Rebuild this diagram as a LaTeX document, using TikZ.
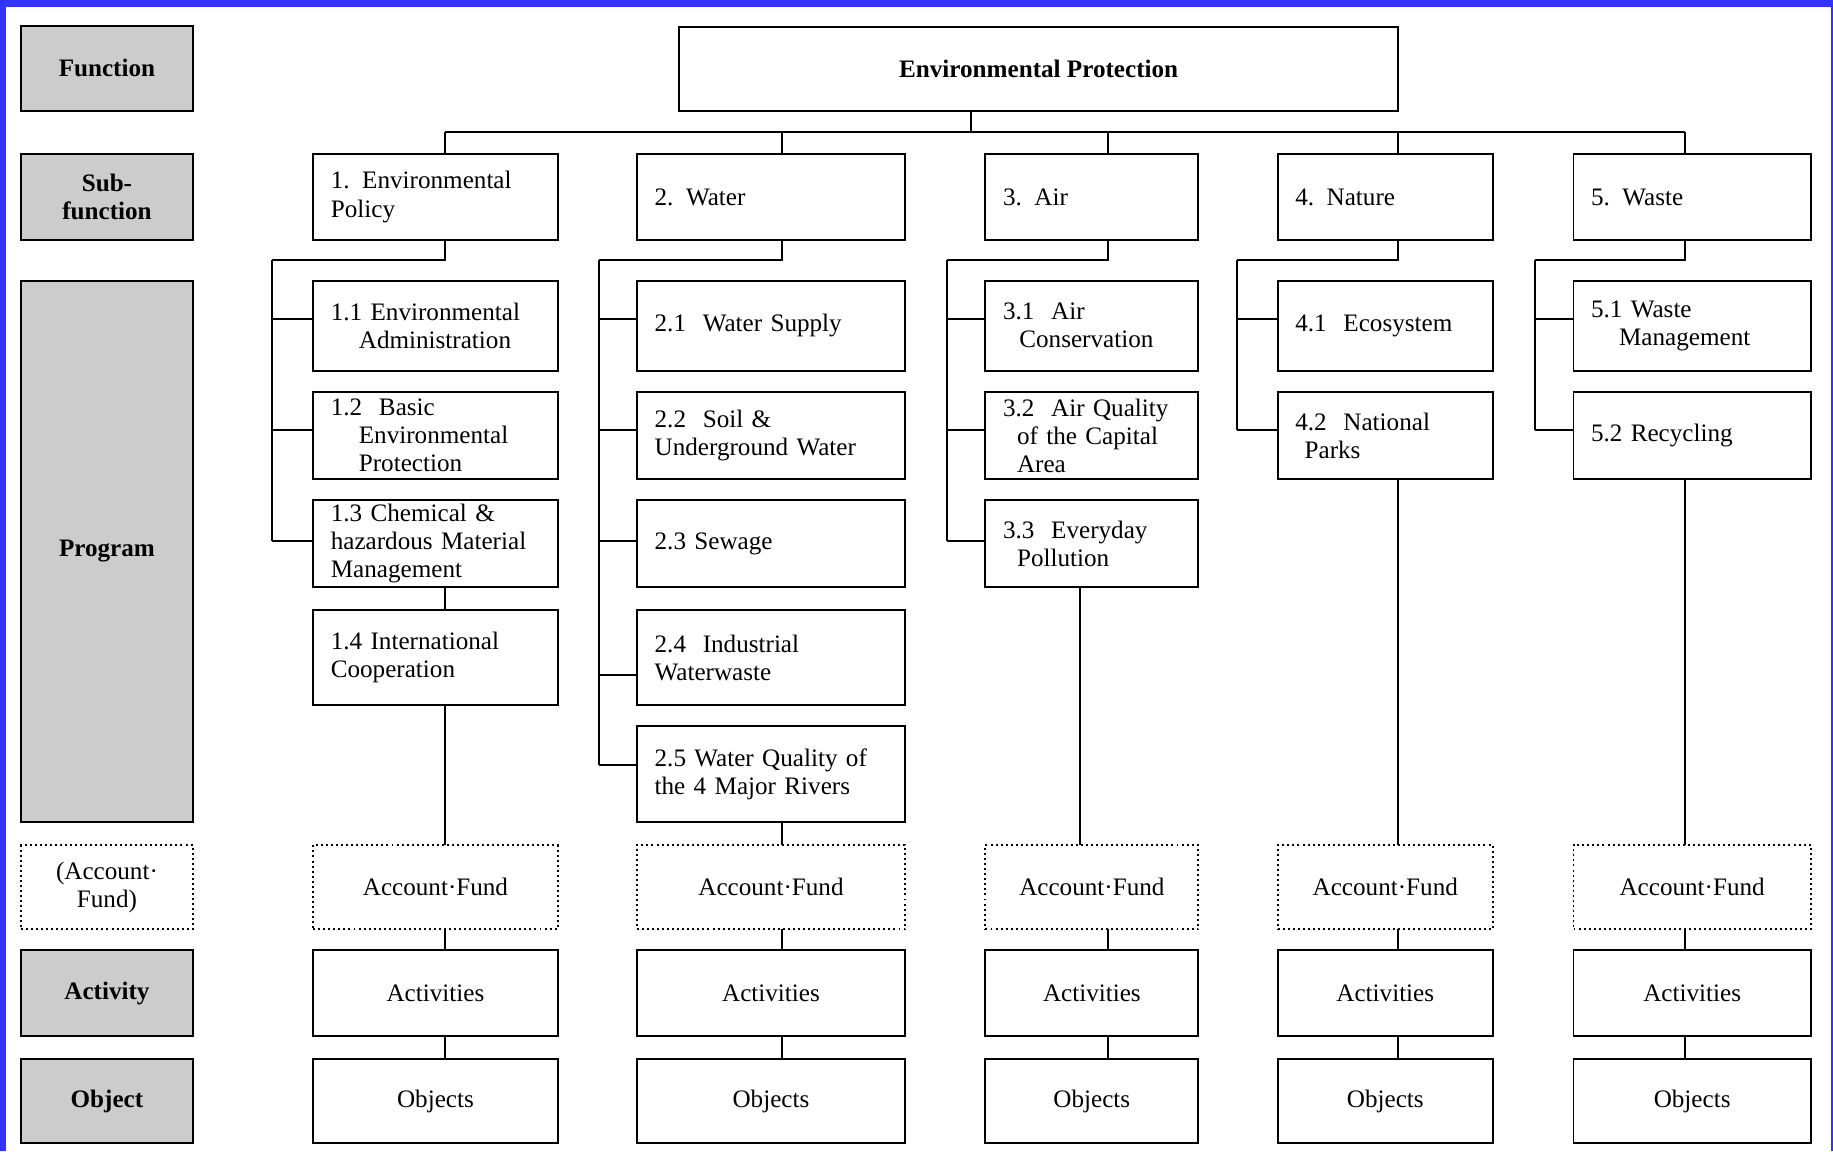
\documentclass[tikz,border=0pt]{standalone}
\usepackage{fontspec}
\setmainfont{Liberation Serif}
\definecolor{frameblue}{HTML}{3333FF}
\definecolor{labgray}{HTML}{CCCCCC}
\newcommand\placebox[7]{%
  \pgfmathsetmacro\bxw{#5-#3}\pgfmathsetmacro\bxh{#6-#4}%
  \pgfmathsetmacro\bxtw{#5-#3-30}%
  \pgfmathsetmacro\bxcx{(#3+#5)/2}\pgfmathsetmacro\bxcy{(#4+#6)/2}%
  \node[#1, minimum width=\bxw pt, minimum height=\bxh pt] (#2) at (\bxcx,\bxcy) {#7};}
\begin{document}
\begin{tikzpicture}[x=1pt,y=-1pt,
  base/.style={draw=black, line width=1.7pt, inner ysep=0pt, outer sep=0pt,
    font=\fontsize{21.5}{24}\selectfont},
  lab/.style={base, fill=labgray, align=center, inner xsep=4pt, font=\fontsize{21.5}{24}\selectfont\bfseries},
  labd/.style={base, fill=white, align=center, inner xsep=4pt, dash pattern=on 1.7pt off 2.6pt},
  lbox/.style={base, fill=white, align=left, inner xsep=15pt, text width=\bxtw pt},
  cbox/.style={base, fill=white, align=center, inner xsep=4pt},
  afbox/.style={cbox, dash pattern=on 1.7pt off 2.6pt},
  conn/.style={line width=1.7pt, draw=black}]
\useasboundingbox (0,0) rectangle (1568,985);
\fill[frameblue] (0,0) rectangle (1568,985);
\fill[white] (5.5,6) rectangle (1566,985);

% left labels
\placebox{lab}{lFun}{18}{22}{165}{95}{Function}
\placebox{lab}{lSub}{18}{132}{165}{205}{Sub-\\function}
\placebox{lab}{lProg}{18}{240}{165}{703}{Program}
\placebox{labd}{lAcc}{18}{723}{165}{795}{(Account·\\Fund)}
\placebox{lab}{lAct}{18}{813}{165}{886}{Activity}
\placebox{lab}{lObj}{18}{906}{165}{978}{Object}

% function
\placebox{cbox}{ep}{581}{23}{1196}{95}{\bfseries Environmental Protection}

% sub-functions
\placebox{lbox}{s1}{268}{132}{477}{205}{1. Environmental\\Policy}
\placebox{lbox}{s2}{545}{132}{774}{205}{2. Water}
\placebox{lbox}{s3}{843}{132}{1025}{205}{3. Air}
\placebox{lbox}{s4}{1093}{132}{1277}{205}{4. Nature}
\placebox{lbox}{s5}{1346}{132}{1549}{205}{5. Waste}

% programs column 1
\placebox{lbox}{p11}{268}{240}{477}{317}{1.1 Environmental\\\hspace*{24pt}Administration}
\placebox{lbox}{p12}{268}{335}{477}{410}{1.2 \ Basic\\\hspace*{24pt}Environmental\\\hspace*{24pt}Protection}
\placebox{lbox}{p13}{268}{428}{477}{502}{1.3 Chemical \&\\hazardous Material\\Management}
\placebox{lbox}{p14}{268}{522}{477}{603}{1.4 International\\Cooperation}
% column 2
\placebox{lbox}{p21}{545}{240}{774}{317}{2.1 \ Water Supply}
\placebox{lbox}{p22}{545}{335}{774}{410}{2.2 \ Soil \&\\Underground Water}
\placebox{lbox}{p23}{545}{428}{774}{502}{2.3 Sewage}
\placebox{lbox}{p24}{545}{522}{774}{603}{2.4 \ Industrial\\Waterwaste}
\placebox{lbox}{p25}{545}{621}{774}{703}{2.5 Water Quality of\\the 4 Major Rivers}
% column 3
\placebox{lbox}{p31}{843}{240}{1025}{317}{3.1 \ Air\\\hspace*{14pt}Conservation}
\placebox{lbox}{p32}{843}{335}{1025}{410}{3.2 \ Air Quality\\\hspace*{12pt}of the Capital\\\hspace*{12pt}Area}
\placebox{lbox}{p33}{843}{428}{1025}{502}{3.3 \ Everyday\\\hspace*{12pt}Pollution}
% column 4
\placebox{lbox}{p41}{1093}{240}{1277}{317}{4.1 \ Ecosystem}
\placebox{lbox}{p42}{1093}{335}{1277}{410}{4.2 \ National\\\hspace*{8pt}Parks}
% column 5
\placebox{lbox}{p51}{1346}{240}{1549}{317}{5.1 Waste\\\hspace*{24pt}Management}
\placebox{lbox}{p52}{1346}{335}{1549}{410}{5.2 Recycling}

% account funds, activities, objects
\placebox{afbox}{af1}{268}{723}{477}{795}{Account·Fund}
\placebox{afbox}{af2}{545}{723}{774}{795}{Account·Fund}
\placebox{afbox}{af3}{843}{723}{1025}{795}{Account·Fund}
\placebox{afbox}{af4}{1093}{723}{1277}{795}{Account·Fund}
\placebox{afbox}{af5}{1346}{723}{1549}{795}{Account·Fund}
\placebox{cbox}{ac1}{268}{813}{477}{886}{Activities}
\placebox{cbox}{ac2}{545}{813}{774}{886}{Activities}
\placebox{cbox}{ac3}{843}{813}{1025}{886}{Activities}
\placebox{cbox}{ac4}{1093}{813}{1277}{886}{Activities}
\placebox{cbox}{ac5}{1346}{813}{1549}{886}{Activities}
\placebox{cbox}{ob1}{268}{906}{477}{978}{Objects}
\placebox{cbox}{ob2}{545}{906}{774}{978}{Objects}
\placebox{cbox}{ob3}{843}{906}{1025}{978}{Objects}
\placebox{cbox}{ob4}{1093}{906}{1277}{978}{Objects}
\placebox{cbox}{ob5}{1346}{906}{1549}{978}{Objects}

% helper coordinates
\coordinate (epx) at (831,0);
\coordinate (busy) at (0,113);
\coordinate (d1) at (381,0);
\coordinate (d2) at (669,0);
\coordinate (d3) at (948,0);
\coordinate (d4) at (1196,0);
\coordinate (d5) at (1441,0);
\coordinate (x3) at (924,0);
\coordinate (ky) at (0,222);
\coordinate (k1) at (233,222);
\coordinate (k2) at (512,222);
\coordinate (k3) at (810,222);
\coordinate (k4) at (1058,222);
\coordinate (k5) at (1313,222);
\coordinate (r1) at (0,273);
\coordinate (r2) at (0,368);
\coordinate (r3) at (0,463);
\coordinate (r4) at (0,577);
\coordinate (r5) at (0,654);

% function to bus
\draw[conn] (ep.south -| epx) -- (epx |- busy);
\draw[conn] (d1 |- busy) -- (d5 |- busy);
\foreach \i in {1,...,5}{
  \draw[conn] (d\i |- busy) -- (s\i.north -| d\i);
  \draw[conn] (s\i.south -| d\i) -- (d\i |- ky) -- (k\i);
}
% spines
\draw[conn] (k1) -- (k1 |- r3);
\draw[conn] (k2) -- (k2 |- r5);
\draw[conn] (k3) -- (k3 |- r3);
\draw[conn] (k4) -- (k4 |- r2);
\draw[conn] (k5) -- (k5 |- r2);
% branches
\foreach \c/\n in {1/3,2/5,3/3,4/2,5/2}{
  \foreach \r in {1,...,\n}{
    \draw[conn] (k\c |- r\r) -- (p\c\r.west |- r\r);
  }
}
% verticals down to account funds
\draw[conn] (p13.south -| d1) -- (p14.north -| d1);
\draw[conn] (p14.south -| d1) -- (af1.north -| d1);
\draw[conn] (p25.south -| d2) -- (af2.north -| d2);
\draw[conn] (p33.south -| x3) -- (af3.north -| x3);
\draw[conn] (p42.south -| d4) -- (af4.north -| d4);
\draw[conn] (p52.south -| d5) -- (af5.north -| d5);
\foreach \i in {1,...,5}{
  \draw[conn] (af\i.south -| d\i) -- (ac\i.north -| d\i);
  \draw[conn] (ac\i.south -| d\i) -- (ob\i.north -| d\i);
}
\end{tikzpicture}
\end{document}
